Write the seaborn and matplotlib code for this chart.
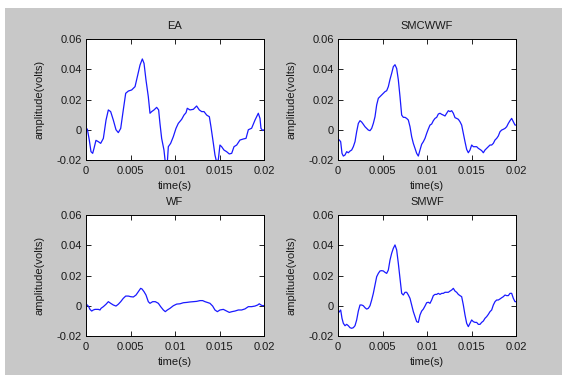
import matplotlib
matplotlib.use("Agg")
import matplotlib.pyplot as plt
from matplotlib.patches import Rectangle
from matplotlib.ticker import FixedLocator, FixedFormatter
import pandas as pd
import seaborn as sns

# ---- data (time in s, amplitude in V) ----
titles = ["EA", "SMCWWF", "WF", "SMWF"]

x_ticks = [0, 0.005, 0.01, 0.015, 0.02]
x_tick_labels = ["0", "0.005", "0.01", "0.015", "0.02"]
y_ticks = [-0.02, 0, 0.02, 0.04, 0.06]
y_tick_labels = ["-0.02", "0", "0.02", "0.04", "0.06"]

time_ea = [0, 0.00015, 0.00037, 0.00056, 0.00075, 0.0009, 0.00112, 0.00139, 0.00165, 0.00195,
           0.00225, 0.00251, 0.00277, 0.00307, 0.00337, 0.00363, 0.0039, 0.00419, 0.00446, 0.00476,
           0.00513, 0.00551, 0.00577, 0.00607, 0.00633, 0.00652, 0.00674, 0.007, 0.00719, 0.00738,
           0.00764, 0.00794, 0.00816, 0.00831, 0.0085, 0.00876, 0.00891, 0.00914, 0.00925, 0.00951,
           0.00981, 0.01011, 0.01037, 0.01075, 0.01101, 0.01124, 0.01138, 0.01168, 0.01206, 0.01243,
           0.01273, 0.013, 0.01326, 0.01356, 0.01386, 0.01404, 0.01431, 0.01449, 0.01468, 0.01487,
           0.01505, 0.01524, 0.0155, 0.0158, 0.0161, 0.01637, 0.01663, 0.01693, 0.0173, 0.01768,
           0.01798, 0.01824, 0.01861, 0.01899, 0.01936, 0.01955, 0.01966, 0.01985, 0.02]
amp_ea = [-0.001, 0.0005, -0.0068, -0.0145, -0.0156, -0.0123, -0.007, -0.0079, -0.009, -0.0057,
          0.0064, 0.0131, 0.012, 0.0064, 0.0, -0.0019, 0.0009, 0.0131, 0.0241, 0.0256,
          0.0263, 0.0285, 0.0351, 0.0428, 0.0468, 0.0439, 0.0329, 0.0219, 0.0109, 0.012,
          0.0131, 0.0148, 0.0131, 0.0042, -0.0057, -0.0134, -0.0215, -0.0215, -0.0112, -0.009,
          -0.0046, 0.0009, 0.0042, 0.0069, 0.0097, 0.0113, 0.0142, 0.0131, 0.0135, 0.0157,
          0.0131, 0.012, 0.012, 0.0097, 0.0086, 0.002, -0.009, -0.0167, -0.0215, -0.0196,
          -0.0101, -0.0112, -0.0134, -0.0145, -0.016, -0.0156, -0.0112, -0.0101, -0.0068, -0.0061,
          -0.0057, 0.0, 0.001, 0.0064, 0.0109, 0.0075, 0.0009, -0.0005, 0.0]

time_wf = [0, 0.00015, 0.0003, 0.00045, 0.00064, 0.00082, 0.00101, 0.0012, 0.00139, 0.00157,
           0.00169, 0.00195, 0.00225, 0.00251, 0.00277, 0.00307, 0.00337, 0.00363, 0.0039, 0.00419,
           0.00446, 0.00476, 0.00502, 0.00532, 0.00562, 0.00588, 0.00614, 0.00629, 0.00652, 0.00674,
           0.007, 0.00719, 0.00749, 0.00779, 0.00813, 0.00839, 0.00869, 0.00891, 0.00914, 0.00944,
           0.00981, 0.01019, 0.01056, 0.01094, 0.01131, 0.01168, 0.01206, 0.01243, 0.01281, 0.01311,
           0.01337, 0.01363, 0.01393, 0.01423, 0.01449, 0.01476, 0.01505, 0.01543, 0.0158, 0.0161,
           0.0164, 0.01674, 0.01711, 0.01749, 0.01786, 0.01824, 0.01861, 0.01899, 0.01929, 0.01947,
           0.01966, 0.01985, 0.02]
amp_wf = [0.0005, 0.0005, -0.0006, -0.0024, -0.0035, -0.0028, -0.0024, -0.0024, -0.0024, -0.0028,
          -0.0017, -0.0006, 0.001, 0.0027, 0.0016, 0.0005, -0.0002, 0.001, 0.0027, 0.0049,
          0.0064, 0.0064, 0.006, 0.0058, 0.0071, 0.0093, 0.0115, 0.0111, 0.0093, 0.0071,
          0.0027, 0.0016, 0.0027, 0.0027, 0.0016, -0.0006, -0.0028, -0.0039, -0.0028, -0.0017,
          0.0, 0.0011, 0.0013, 0.002, 0.0022, 0.0025, 0.0027, 0.0029, 0.0034, 0.0034,
          0.0027, 0.0022, 0.0016, -0.0002, -0.0028, -0.0039, -0.0028, -0.0024, -0.0035, -0.0044,
          -0.0039, -0.0035, -0.0028, -0.0028, -0.0021, -0.0006, -0.0006, -0.0002, 0.0005, 0.0013,
          0.0005, 0.0, 0.0002]

time_smooth = [0, 0.00015, 0.0003, 0.000449, 0.000599, 0.000787,
               0.000974, 0.001161, 0.001348, 0.001536, 0.001723, 0.00191, 0.002097, 0.002285, 0.002472, 0.002659,
               0.002846, 0.003034, 0.003221, 0.003408, 0.003596, 0.003783, 0.00397, 0.004157, 0.004345, 0.004532,
               0.004719, 0.004906, 0.005094, 0.005281, 0.005468, 0.005655, 0.005843, 0.00603,
               0.006217, 0.006404, 0.006592, 0.006779, 0.006966, 0.007154, 0.007341, 0.007528, 0.007715, 0.007903,
               0.00809, 0.008277, 0.008464, 0.008652, 0.008839, 0.009026,
               0.009213, 0.009401, 0.009588, 0.009775, 0.009963, 0.01015,
               0.010337, 0.010524, 0.010712, 0.010899, 0.011086, 0.011273,
               0.011461, 0.011648, 0.011835, 0.012022, 0.01221, 0.012397,
               0.012584, 0.012772, 0.012959, 0.013146, 0.013333, 0.013521,
               0.013708, 0.013895, 0.014082, 0.01427, 0.014457, 0.014644,
               0.014831, 0.015019, 0.015206, 0.015393, 0.01558, 0.015768,
               0.015955, 0.016142, 0.01633, 0.016517, 0.016704, 0.016891,
               0.017079, 0.017266, 0.017453, 0.01764, 0.017828, 0.018015,
               0.018202, 0.01839, 0.018577, 0.018764, 0.018951, 0.019139,
               0.019326, 0.019513, 0.0197, 0.019888,
               0.02]
amp_smcwwf = [-0.0063, -0.0068, -0.0079, -0.0156, -0.0174, -0.0167,
              -0.0145, -0.0152, -0.0141, -0.0134, -0.0112, -0.0079, -0.0013, 0.0042, 0.006, 0.0051,
              0.0036, 0.002, 0.0009, -0.0002, -0.0006, 0.0009, 0.0042, 0.0086, 0.0164, 0.0208,
              0.0219, 0.023, 0.0241, 0.0252, 0.0258, 0.0285, 0.0333, 0.0373,
              0.0417, 0.043, 0.0405, 0.033, 0.0219, 0.0097, 0.0082, 0.0082, 0.0075, 0.0064,
              0.002, -0.0046, -0.009, -0.0123, -0.0156, -0.0174,
              -0.0134, -0.0096, -0.0079, -0.0057, -0.0024, 0.0005,
              0.0031, 0.0038, 0.006, 0.0075, 0.0082, 0.0104,
              0.0109, 0.0102, 0.0097, 0.0091, 0.0109, 0.0126,
              0.012, 0.0126, 0.0109, 0.008, 0.0075, 0.0069,
              0.0053, 0.0031, -0.0024, -0.0079, -0.013, -0.0152,
              -0.0134, -0.0101, -0.0112, -0.0112, -0.0112, -0.0123,
              -0.013, -0.0138, -0.0152, -0.0134, -0.0123, -0.0112,
              -0.0101, -0.0101, -0.009, -0.0068, -0.0057, -0.0041,
              -0.0013, -0.0002, 0.0003, 0.0009, 0.002, 0.0042,
              0.006, 0.0075, 0.0053, 0.0031,
              0.0031]
amp_smwf = [-0.005, -0.0039, -0.0028, -0.0083, -0.0116, -0.0132,
            -0.0123, -0.0132, -0.0145, -0.0149, -0.0145, -0.0132, -0.0094, -0.0035, 0.0005, 0.0005,
            0.0, -0.0013, -0.0022, -0.0017, 0.0, 0.0038, 0.0082, 0.0137, 0.0192, 0.0214,
            0.023, 0.0232, 0.023, 0.0221, 0.0214, 0.0236, 0.0302, 0.0347,
            0.038, 0.0402, 0.0369, 0.028, 0.0181, 0.0082, 0.0071, 0.0089, 0.0089, 0.0071,
            0.0049, 0.0005, -0.0039, -0.0072, -0.0105, -0.011,
            -0.0061, -0.0035, -0.0022, -0.0002, 0.002, 0.0023,
            0.0016, 0.0038, 0.0067, 0.0075, 0.0075, 0.0082,
            0.0075, 0.0082, 0.0082, 0.0089, 0.0089, 0.0089,
            0.0097, 0.0104, 0.0115, 0.0097, 0.0089, 0.0075,
            0.0067, 0.006, 0.0005, -0.0061, -0.0116, -0.0138,
            -0.0116, -0.0094, -0.0105, -0.011, -0.011, -0.0123,
            -0.0123, -0.011, -0.0101, -0.0083, -0.0072, -0.0057,
            -0.0039, -0.0028, 0.0005, 0.0027, 0.0038, 0.0038,
            0.0045, 0.0053, 0.006, 0.0071, 0.0067, 0.0067,
            0.0082, 0.0082, 0.0049, 0.0027,
            0.0027]

series = [
    (time_ea, amp_ea),
    (time_smooth, amp_smcwwf),
    (time_wf, amp_wf),
    (time_smooth, amp_smwf),
]

# ---- styling ----
sns.set_theme(style="ticks")
plt.rcParams["font.family"] = ["Liberation Sans", "DejaVu Sans"]
plt.rcParams["font.size"] = 8

W, H = 562, 375
fig = plt.figure(figsize=(W / 100, H / 100), dpi=100)
fig.patch.set_facecolor("white")
# grey figure panel with a thin white border at top and left
fig.add_artist(Rectangle((5 / W, 0), 1 - 5 / W, 1 - 8 / H, transform=fig.transFigure,
                         facecolor="#c8c8c8", edgecolor="none", zorder=-10))

ax_w, ax_h = 178 / W, 121 / H
lefts = [86 / W, 338 / W]
bottoms = [1 - 160 / H, 1 - 336 / H]
positions = [(lefts[0], bottoms[0]), (lefts[1], bottoms[0]),
             (lefts[0], bottoms[1]), (lefts[1], bottoms[1])]

text_col = "#1a1a1a"
for (x0, y0), title, (t, a) in zip(positions, titles, series):
    ax = fig.add_axes([x0, y0, ax_w, ax_h])
    ax.set_facecolor("white")
    df = pd.DataFrame({"time(s)": t, "amplitude(volts)": a})
    sns.lineplot(data=df, x="time(s)", y="amplitude(volts)", ax=ax,
                 color="#1a1aff", linewidth=0.9, estimator=None, sort=False)
    ax.set_xlim(0, 0.02)
    ax.set_ylim(-0.02, 0.06)
    ax.xaxis.set_major_locator(FixedLocator(x_ticks))
    ax.xaxis.set_major_formatter(FixedFormatter(x_tick_labels))
    ax.yaxis.set_major_locator(FixedLocator(y_ticks))
    ax.yaxis.set_major_formatter(FixedFormatter(y_tick_labels))
    ax.tick_params(direction="in", length=3.5, width=0.6, color="black",
                   top=True, right=True, labelsize=8, labelcolor=text_col, pad=3)
    ax.tick_params(axis="x", pad=4)
    for s in ax.spines.values():
        s.set_visible(True)
        s.set_color("black")
        s.set_linewidth(0.7)
    ax.set_title(title, fontsize=8, color=text_col, pad=7)
    ax.set_xlabel("time(s)", fontsize=8, color=text_col, labelpad=4)
    ax.set_ylabel("amplitude(volts)", fontsize=8, color=text_col, labelpad=9)

fig.savefig("out.png", dpi=100)
